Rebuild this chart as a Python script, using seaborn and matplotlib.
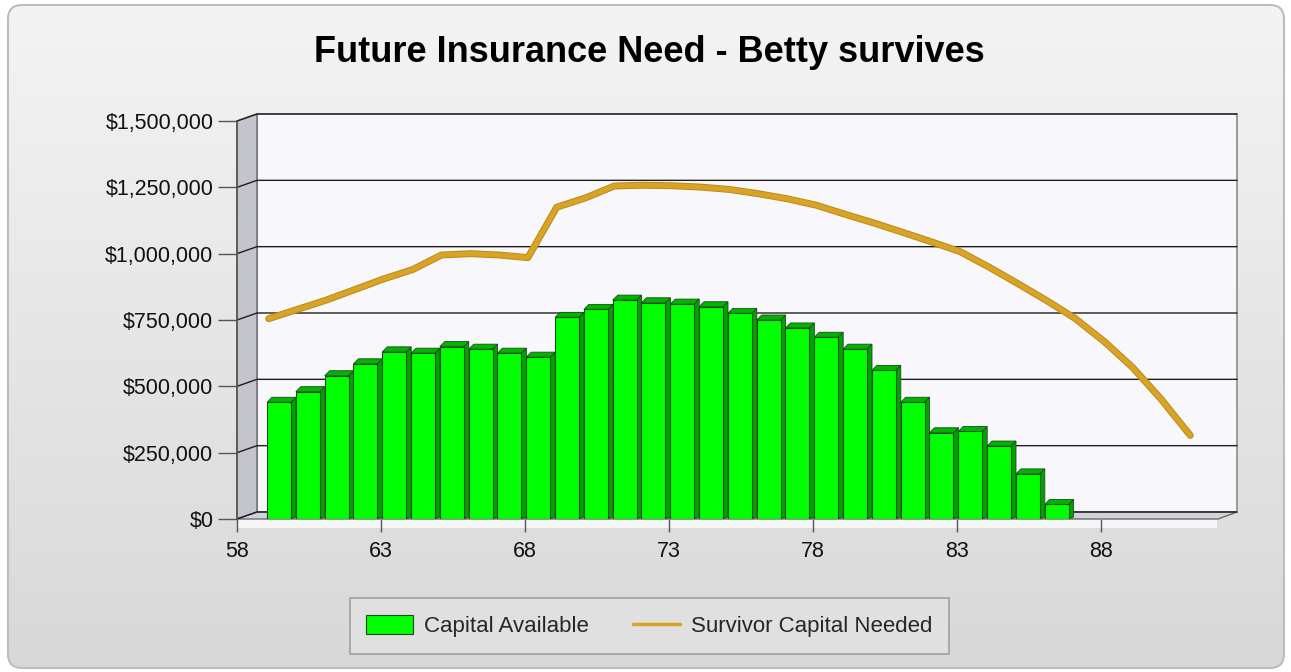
import numpy as np
import pandas as pd
import matplotlib
matplotlib.use("Agg")
import matplotlib.pyplot as plt
import seaborn as sns
from matplotlib.patches import Polygon, FancyBboxPatch, Patch
from matplotlib.lines import Line2D
from matplotlib.colors import LinearSegmentedColormap
from matplotlib.transforms import IdentityTransform
import matplotlib.patheffects as pe

# ---------------- data ----------------
title = "Future Insurance Need - Betty survives"
bar_ages = np.arange(59, 87)
capital_available = [440000, 480000, 540000, 585000, 630000, 625000, 650000, 640000,
                     625000, 610000, 760000, 790000, 825000, 815000, 810000, 800000,
                     775000, 750000, 720000, 685000, 640000, 560000, 440000, 325000,
                     330000, 275000, 170000, 55000]
line_ages = np.arange(59, 92)
survivor_needed = [755000, 790000, 825000, 865000, 905000, 940000, 995000, 1000000,
                   995000, 985000, 1175000, 1210000, 1255000, 1258000, 1256000, 1251000,
                   1242000, 1226000, 1207000, 1183000, 1149000, 1116000, 1081000, 1045000,
                   1008000, 950000, 888000, 824000, 756000, 670000, 571000, 450000, 315000]
x_ticks = [58, 63, 68, 73, 78, 83, 88]
y_ticks = [0, 250000, 500000, 750000, 1000000, 1250000, 1500000]
y_tick_labels = ["$0", "$250,000", "$500,000", "$750,000", "$1,000,000", "$1,250,000", "$1,500,000"]
series_names = ["Capital Available", "Survivor Capital Needed"]

# ---------------- style ----------------
sns.set_style("white")
plt.rcParams["font.family"] = ["Liberation Sans", "DejaVu Sans"]

W, H = 1291, 672
fig = plt.figure(figsize=(W / 100, H / 100), dpi=100)
fig.patch.set_facecolor("white")

# background panel with gradient and rounded border
bg = fig.add_axes([0, 0, 1, 1], zorder=-10)
bg.set_axis_off()
panel = FancyBboxPatch((8, 4), 1276, 663, boxstyle="round,pad=0,rounding_size=14",
                       transform=IdentityTransform(), facecolor="none",
                       edgecolor="#bdbdbd", lw=1.5)
grad = np.linspace(0, 1, 256).reshape(-1, 1)
cmap = LinearSegmentedColormap.from_list("bgc", ["#f4f4f4", "#d8d8d8"])
im = bg.imshow(grad, cmap=cmap, extent=[0, 1, 0, 1], aspect="auto", transform=bg.transAxes)
im.set_clip_path(panel)
bg.add_patch(panel)

# main axes (front plane): x 237..1237 px, y 121..519 px
px_per_year = 28.8
ax = fig.add_axes([237 / W, (H - 519) / H, 1000 / W, 398 / H])
ax.set_facecolor("none")
for s in ax.spines.values():
    s.set_visible(False)

# 3D-like frame pieces (in axes fraction)
dxf, dyf = 20 / 1000, 7 / 398
back_wall = Polygon([(dxf, dyf), (1.0, dyf), (1.0, 1 + dyf), (dxf, 1 + dyf)], closed=True,
                    transform=ax.transAxes, facecolor="#f8f8fc", edgecolor="#8a8a92",
                    lw=1.2, zorder=0, clip_on=False)
left_wall = Polygon([(0, 0), (dxf, dyf), (dxf, 1 + dyf), (0, 1)], closed=True,
                    transform=ax.transAxes, facecolor="#c4c4cc", edgecolor="#6a6a72",
                    lw=1.0, zorder=1, clip_on=False)
floor = Polygon([(0, 0), (1 - dxf + 0.001, 0), (1.0, dyf), (dxf, dyf)], closed=True,
                transform=ax.transAxes, facecolor="#d2d2d6", edgecolor="#6a6a72",
                lw=1.0, zorder=1, clip_on=False)
for p in (back_wall, left_wall, floor):
    ax.add_patch(p)
# white strip under front floor edge
ax.add_patch(Polygon([(0, 0), (1 - dxf, 0), (1 - dxf, -9 / 398), (0, -9 / 398)], closed=True,
                     transform=ax.transAxes, facecolor="#f6f6f6", edgecolor="none",
                     zorder=0.5, clip_on=False))

# gridlines on back wall with diagonal connectors on left wall
for v in y_ticks:
    f = v / 1.5e6
    ax.plot([0, dxf, 1.0], [f, f + dyf, f + dyf], transform=ax.transAxes,
            color="#1e1e1e", lw=1.0, zorder=1.5, clip_on=False)

# front left axis line
ax.plot([0, 0], [0, 1], transform=ax.transAxes, color="#555555", lw=1.2, zorder=2,
        clip_on=False)

# bars
df_bars = pd.DataFrame({"pos": bar_ages + 0.46, "value": capital_available})
n_before = len(ax.patches)
sns.barplot(data=df_bars, x="pos", y="value", native_scale=True, width=0.83,
            color="#00ff00", saturation=1, edgecolor="#1b4d1b", linewidth=0.8,
            errorbar=None, ax=ax, zorder=3)
bars = ax.patches[n_before:]

ddx = 5 / px_per_year
ddy = 5 / (398 / 1.5e6)
for b in list(bars):
    x0 = b.get_x()
    x1 = x0 + b.get_width()
    h = b.get_height()
    side = Polygon([(x1, 0), (x1 + ddx, ddy * 0.4), (x1 + ddx, h + ddy), (x1, h)], closed=True,
                   facecolor="#00a300", edgecolor="#1b4d1b", lw=0.6, zorder=2.9)
    top = Polygon([(x0, h), (x0 + ddx, h + ddy), (x1 + ddx, h + ddy), (x1, h)], closed=True,
                  facecolor="#00b400", edgecolor="#1b4d1b", lw=0.6, zorder=2.9)
    ax.add_patch(side)
    ax.add_patch(top)

# line
line_color = "#d9a326"
sns.lineplot(x=line_ages + 0.1, y=survivor_needed, color=line_color, lw=3.6, ax=ax,
             zorder=4, legend=False,
             path_effects=[pe.Stroke(linewidth=5.0, foreground="#b98a1c"), pe.Normal()])

ax.set_xlim(58, 58 + 1000 / px_per_year)
ax.set_ylim(0, 1.5e6)
ax.set_xticks(x_ticks)
ax.set_xticklabels([str(t) for t in x_ticks])
ax.set_yticks(y_ticks)
ax.set_yticklabels(y_tick_labels)
ax.set_xlabel("")
ax.set_ylabel("")
ax.grid(False)
ax.tick_params(axis="both", which="both", direction="out", colors="#555555",
               labelcolor="#111111", labelsize=15.5, width=1.0)
ax.tick_params(axis="y", length=14, pad=3, left=True)
ax.tick_params(axis="x", length=9, pad=7, bottom=True)

# title
fig.text(649.5 / W, 1 - 52 / H, title, ha="center", va="center", fontsize=26,
         fontweight="bold", color="#000000")

# legend
handles = [Patch(facecolor="#00ff00", edgecolor="#1b4d1b", lw=0.8),
           Line2D([0], [0], color=line_color, lw=2.5)]
leg = fig.legend(handles, series_names, loc="center", bbox_to_anchor=(649.5 / W, 1 - 626 / H),
                 ncol=2, fontsize=16, frameon=True, fancybox=False, edgecolor="#a0a0a0",
                 facecolor="#e0e0e0", framealpha=1, handlelength=2.1, handleheight=0.9,
                 columnspacing=2.0, borderpad=0.75, handletextpad=0.5)
leg.get_frame().set_linewidth(1.2)

fig.savefig("out.png", dpi=100)
